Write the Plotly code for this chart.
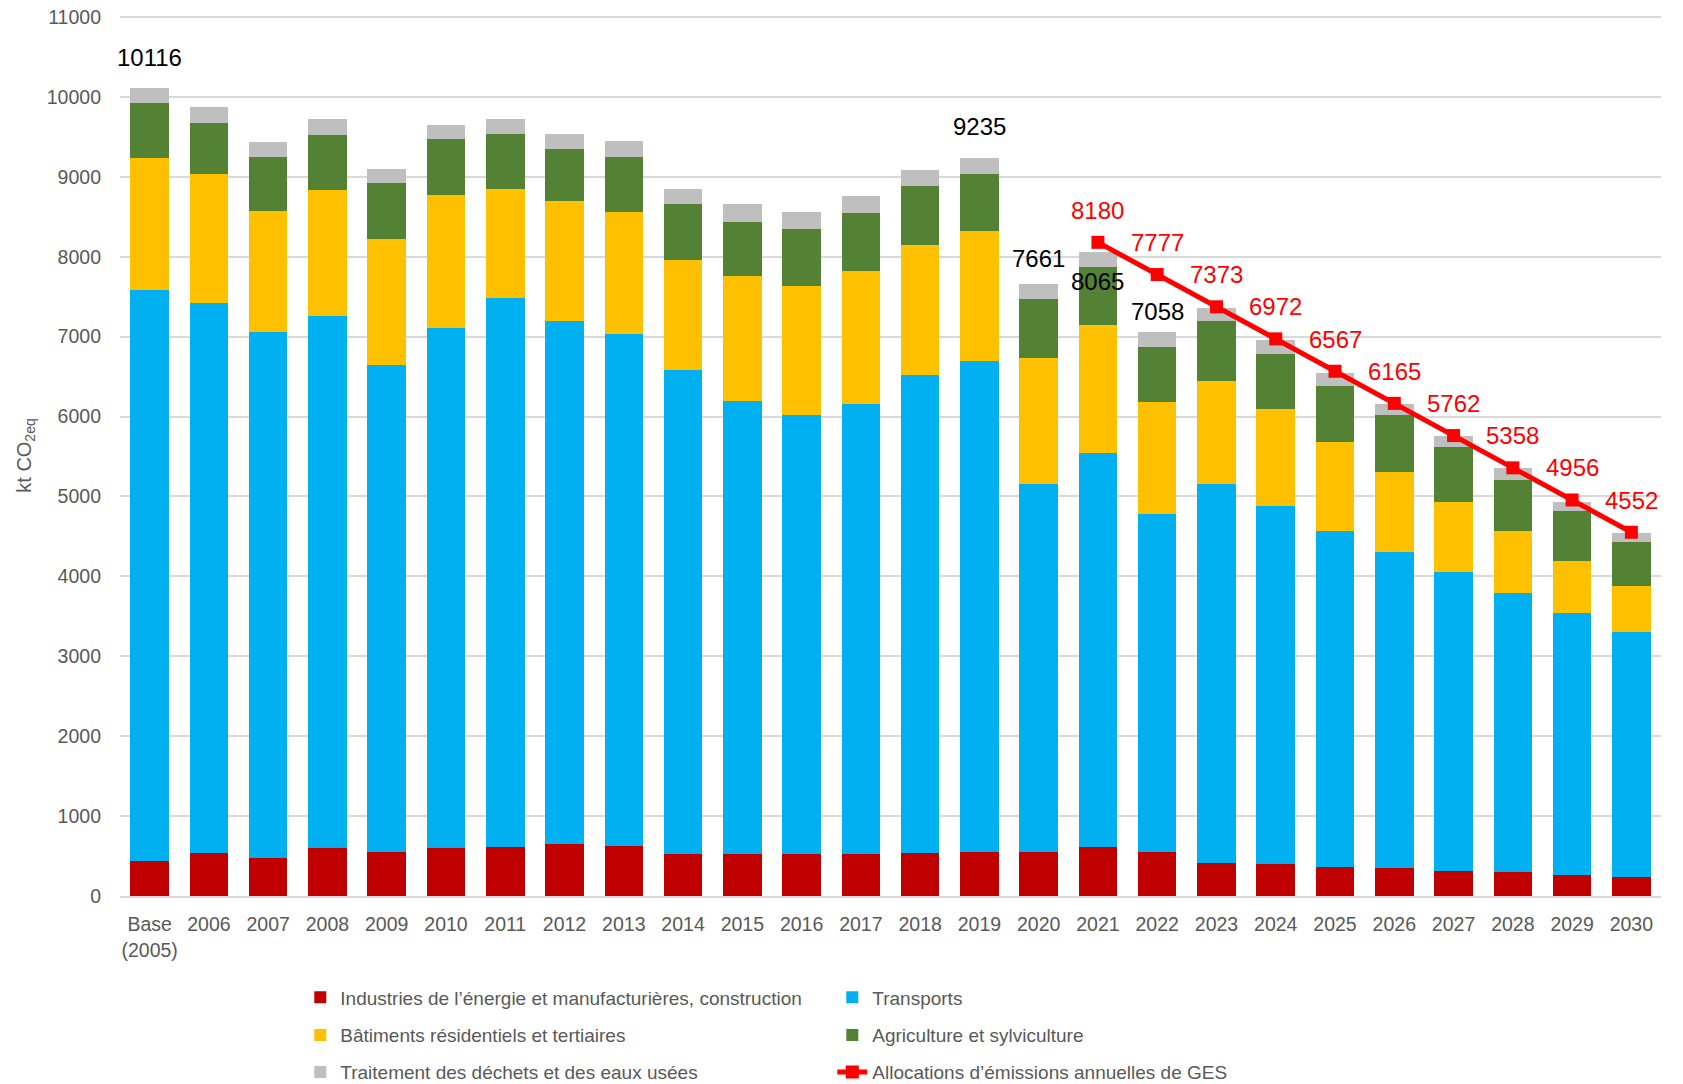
import plotly.graph_objects as go

# ---- data ----
categories = ["Base<br>(2005)", "2006", "2007", "2008", "2009", "2010", "2011", "2012", "2013",
              "2014", "2015", "2016", "2017", "2018", "2019", "2020", "2021", "2022", "2023",
              "2024", "2025", "2026", "2027", "2028", "2029", "2030"]

industries = [440, 540, 470, 600, 550, 604, 617, 657, 630, 523, 523, 523, 523, 537, 550, 550,
              617, 550, 416, 402, 362, 349, 309, 295, 268, 241]
transports = [7140, 6878, 6586, 6657, 6090, 6505, 6868, 6533, 6399, 6063, 5674, 5500, 5634, 5982,
              6143, 4601, 4923, 4225, 4735, 4481, 4206, 3953, 3750, 3497, 3273, 3059]
batiments = [1650, 1612, 1514, 1573, 1585, 1664, 1368, 1502, 1529, 1368, 1556, 1610, 1663, 1623,
             1624, 1583, 1610, 1409, 1288, 1207, 1110, 1008, 876, 776, 652, 584]
agriculture = [691, 641, 675, 694, 702, 697, 684, 658, 684, 711, 684, 710, 725, 738, 724, 737,
               724, 684, 751, 697, 705, 706, 688, 639, 625, 542]
dechets = [195, 208, 196, 197, 168, 175, 188, 187, 201, 188, 228, 215, 214, 201, 194, 190, 191,
           190, 174, 175, 158, 138, 138, 153, 117, 113]

alloc_years = ["2021", "2022", "2023", "2024", "2025", "2026", "2027", "2028", "2029", "2030"]
allocations = [8180, 7777, 7373, 6972, 6567, 6165, 5762, 5358, 4956, 4552]

total_label_years = ["Base<br>(2005)", "2019", "2020", "2021", "2022"]
total_label_shift = [30, 32, 25, -30, 21]

series_names = ["Industries de l’énergie et manufacturières, construction", "Transports",
                "Bâtiments résidentiels et tertiaires", "Agriculture et sylviculture",
                "Traitement des déchets et des eaux usées"]
line_name = "Allocations d’émissions annuelles de GES"

y_ticks = [0, 1000, 2000, 3000, 4000, 5000, 6000, 7000, 8000, 9000, 10000, 11000]
y_tick_labels = ["0", "1000", "2000", "3000", "4000", "5000", "6000", "7000", "8000", "9000",
                 "10000", "11000"]

# ---- styles ----
colors = ["#C00000", "#00B0F0", "#FFC000", "#548235", "#BFBFBF"]
legend_ids = ["legend", "legend", "legend2", "legend2", "legend3"]
FONT = "Liberation Sans"
GREY = "#595959"

fig = go.Figure()
for name, vals, col, lg in zip(series_names, [industries, transports, batiments, agriculture, dechets],
                               colors, legend_ids):
    fig.add_trace(go.Bar(x=categories, y=vals, name=name, marker=dict(color=col, line=dict(width=0)),
                         legend=lg))

fig.add_trace(go.Scatter(x=alloc_years, y=allocations, name=line_name, mode="lines+markers",
                         line=dict(color="#FF0000", width=5),
                         marker=dict(symbol="square", size=13, color="#FF0000"),
                         legend="legend3"))

# totals labels (category index used as annotation position)
stacks = [industries, transports, batiments, agriculture, dechets]
for cat, shift in zip(total_label_years, total_label_shift):
    i = categories.index(cat)
    total = sum(s[i] for s in stacks)
    fig.add_annotation(x=i, y=total, text=str(total), showarrow=False, yshift=shift,
                       font=dict(family=FONT, size=24, color="#000000"))

for x, v in zip(alloc_years, allocations):
    fig.add_annotation(x=categories.index(x), y=v, text=str(v), showarrow=False, yshift=32,
                       font=dict(family=FONT, size=24, color="#FF0000"))

legend_common = dict(orientation="h", xanchor="left", yanchor="middle", entrywidth=487,
                     entrywidthmode="pixels", font=dict(family=FONT, size=19, color=GREY),
                     bgcolor="rgba(0,0,0,0)", traceorder="normal")

# the page body adds an 8px offset; the figure is sized to fill the rest of the window
fig.update_layout(
    width=1675, height=1076,
    margin=dict(l=112, r=22, t=7, b=188, autoexpand=False),
    paper_bgcolor="white", plot_bgcolor="white",
    barmode="stack", bargap=0.35,
    font=dict(family=FONT, color=GREY),
    showlegend=True,
    legend=dict(x=0.117, y=-0.115, **legend_common),
    legend2=dict(x=0.117, y=-0.158, **legend_common),
    legend3=dict(x=0.117, y=-0.2, **legend_common),
    xaxis=dict(type="category", categoryorder="array", categoryarray=categories,
               range=[-0.5, len(categories) - 0.5], automargin=False,
               showgrid=False, showline=True, linecolor="#D9D9D9", linewidth=2,
               tickfont=dict(family=FONT, size=19.5, color=GREY), ticks="", ticklabelstandoff=10),
    yaxis=dict(range=[0, 11025], tickvals=y_ticks, ticktext=y_tick_labels, showgrid=True,
               gridcolor="#D9D9D9", gridwidth=2, zeroline=False, showline=False, automargin=False,
               ticklabeloverflow="allow",
               tickfont=dict(family=FONT, size=19.5, color=GREY), ticklabelstandoff=18,
               title=dict(text="kt CO<sub>2eq</sub>", font=dict(family=FONT, size=20, color=GREY),
                          standoff=9)),
)

fig.write_html("out.html")
